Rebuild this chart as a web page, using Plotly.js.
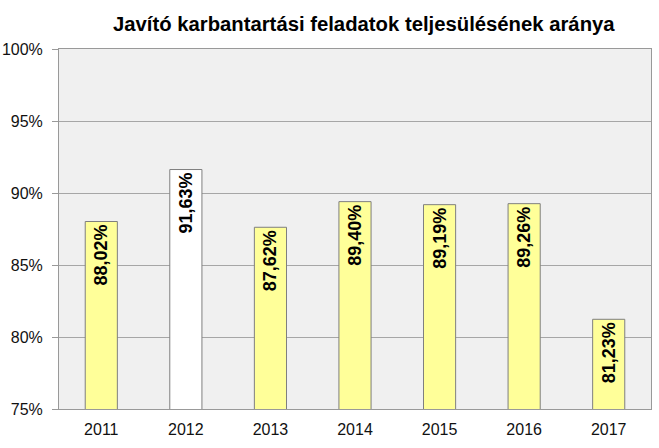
<!DOCTYPE html>
<html><head><meta charset="utf-8">
<script src="https://cdn.plot.ly/plotly-3.0.1.min.js"></script>
<style>body{margin:0;background:#fff}#c{width:659px;height:448px}</style>
</head><body><div id="c"></div>
<script>
const years = ['2011','2012','2013','2014','2015','2016','2017'];
const values = [88.02, 91.63, 87.62, 89.40, 89.19, 89.26, 81.23];
const labels = ['88,02%','91,63%','87,62%','89,40%','89,19%','89,26%','81,23%'];
const colors = ['#ffff99','#ffffff','#ffff99','#ffff99','#ffff99','#ffff99','#ffff99'];

Plotly.newPlot('c', [{
  type: 'bar', x: years, y: values, text: labels,
  textposition: 'inside', insidetextanchor: 'end', textangle: -90,
  textfont: {family: 'Liberation Sans, Arial, sans-serif', size: 18, color: '#000', weight: 'bold'},
  marker: {color: colors, line: {color: '#7f7f7f', width: 1}},
  hoverinfo: 'none', cliponaxis: true
}], {
  width: 659, height: 448,
  margin: {l: 59, r: 8, t: 49, b: 39},
  paper_bgcolor: '#ffffff', plot_bgcolor: '#f0f0f0',
  bargap: 0.62,
  showlegend: false,
  title: {text: 'Javító karbantartási feladatok teljesülésének aránya', x: 0.552, xanchor: 'center', y: 0.946, yanchor: 'middle',
    font: {family: 'Liberation Sans, Arial, sans-serif', size: 20.3, color: '#000', weight: 'bold'}},
  xaxis: {type: 'category', showline: true, linecolor: '#999', mirror: true, ticks: '', showgrid: false,
    ticklabelstandoff: 6,
    tickfont: {family: 'Liberation Sans, Arial, sans-serif', size: 16, color: '#111'}},
  yaxis: {range: [75, 100], dtick: 5, ticksuffix: '%', showline: true, linecolor: '#999', mirror: true,
    ticks: 'outside', ticklen: 6, tickcolor: '#999', gridcolor: '#a6a6a6', gridwidth: 1, zeroline: false,
    ticklabelstandoff: 6,
    tickfont: {family: 'Liberation Sans, Arial, sans-serif', size: 16, color: '#111'}}
}, {staticPlot: true});
</script></body></html>
